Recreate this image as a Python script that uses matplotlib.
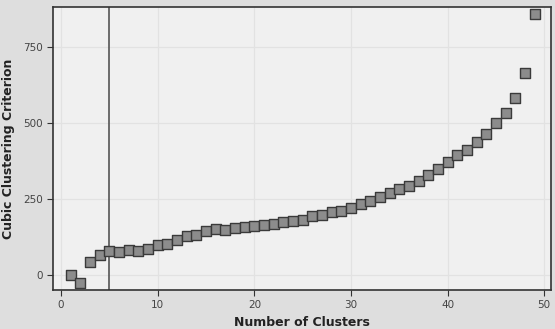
import numpy as np
import matplotlib
matplotlib.use("Agg")
import matplotlib.pyplot as plt

# number of clusters vs cubic clustering criterion
clusters = list(range(1, 50))
ccc = [0, -29, 41, 65, 77, 75, 80, 78, 84, 97,
       102, 115, 126, 131, 145, 149, 148, 153, 156, 159,
       164, 167, 172, 176, 181, 192, 198, 207, 211, 220,
       232, 244, 255, 268, 282, 293, 310, 328, 349, 372,
       393, 410, 437, 464, 501, 533, 582, 663, 858]
chosen_k = 5

fig = plt.figure(figsize=(5.55, 3.29), dpi=100, facecolor="#dedede")
ax = fig.add_axes([0.0962, 0.1185, 0.8966, 0.8611])
ax.set_facecolor("#f0f0f0")

ax.grid(True, color="#e2e2e2", linewidth=0.9)
ax.set_axisbelow(True)

ax.axvline(chosen_k, color="#555555", linewidth=1.2, zorder=2)
ax.scatter(clusters, ccc, marker="s", s=56, facecolor="#8c8c8c",
           edgecolor="#3a3a3a", linewidth=1.0, zorder=3)

ax.set_xlim(-0.8, 50.7)
ax.set_ylim(-50.5, 883)
ax.set_xticks([0, 10, 20, 30, 40, 50])
ax.set_yticks([0, 250, 500, 750])

for s in ax.spines.values():
    s.set_color("#333333")
    s.set_linewidth(1.2)

ax.tick_params(labelsize=7.5, labelcolor="#444444", color="#333333", length=4)
ax.set_xlabel("Number of Clusters", fontsize=9, fontweight="bold", color="#222222", labelpad=4)
ax.set_ylabel("Cubic Clustering Criterion", fontsize=9, fontweight="bold", color="#222222", labelpad=6)

fig.savefig("out.png", dpi=100, facecolor=fig.get_facecolor())
